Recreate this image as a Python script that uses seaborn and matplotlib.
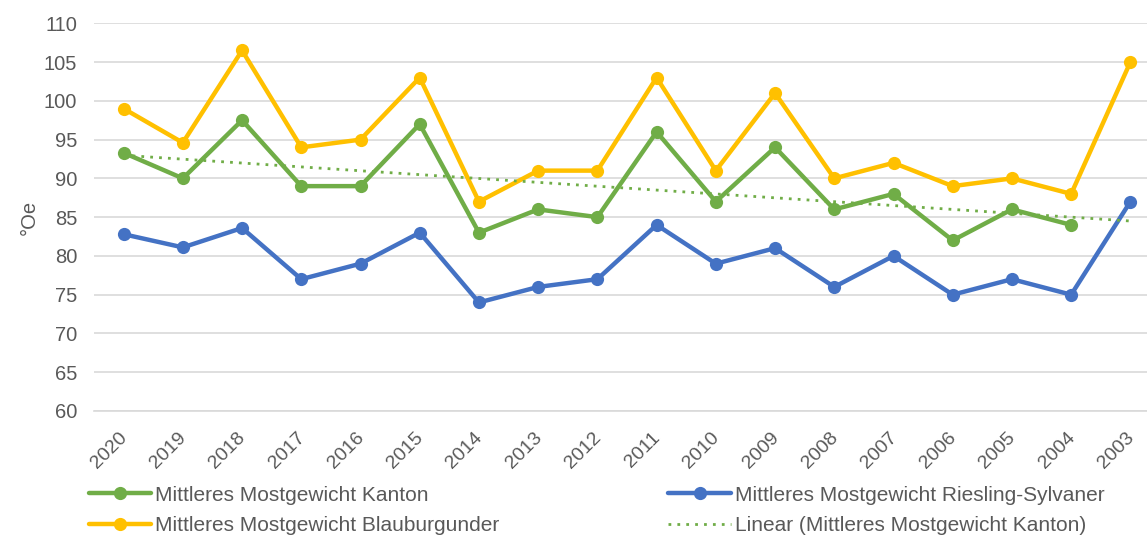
import numpy as np
import pandas as pd
import seaborn as sns
import matplotlib.pyplot as plt
import matplotlib.transforms as mtransforms
from matplotlib.ticker import FixedLocator

years = ['2020', '2019', '2018', '2017', '2016', '2015', '2014', '2013', '2012',
         '2011', '2010', '2009', '2008', '2007', '2006', '2005', '2004', '2003']
kanton = [93.3, 90, 97.5, 89, 89, 97, 83, 86, 85, 96, 87, 94, 86, 88, 82, 86, 84, np.nan]
riesling = [82.8, 81.1, 83.6, 77, 79, 83, 74, 76, 77, 84, 79, 81, 76, 80, 75, 77, 75, 87]
blauburgunder = [99, 94.6, 106.5, 94, 95, 103, 87, 91, 91, 103, 91, 101, 90, 92, 89, 90, 88, 105]

lbl_k = 'Mittleres Mostgewicht Kanton'
lbl_r = 'Mittleres Mostgewicht Riesling-Sylvaner'
lbl_b = 'Mittleres Mostgewicht Blauburgunder'
lbl_t = 'Linear (Mittleres Mostgewicht Kanton)'

GREEN = '#70AD47'
BLUE = '#4472C4'
YELLOW = '#FFC000'
TXT = '#595959'

sns.set_style('white')
plt.rcParams['font.family'] = ['Liberation Sans', 'DejaVu Sans']

pos = np.arange(len(years))
df = pd.DataFrame({'pos': pos, 'kanton': kanton, 'riesling': riesling, 'blau': blauburgunder})

# linear trend of the Kanton series
ok = df['kanton'].notna()
slope, icpt = np.polyfit(df.loc[ok, 'pos'], df.loc[ok, 'kanton'], 1)
trend = pd.DataFrame({'pos': pos, 'trend': icpt + slope * pos})

fig = plt.figure(figsize=(11.47, 5.35), dpi=100)
ax = fig.add_axes([94 / 1147, 1 - 411 / 535, 1066 / 1147, (411 - 23.3) / 535])

style = dict(marker='o', markersize=9.5, linewidth=3.2, markeredgewidth=0)
sns.lineplot(data=df, x='pos', y='kanton', color=GREEN, label=lbl_k, ax=ax, **style)
sns.lineplot(data=df, x='pos', y='riesling', color=BLUE, label=lbl_r, ax=ax, **style)
sns.lineplot(data=df, x='pos', y='blau', color=YELLOW, label=lbl_b, ax=ax, **style)
sns.lineplot(data=trend, x='pos', y='trend', color=GREEN, label=lbl_t, ax=ax,
             linewidth=2, linestyle=(0, (1, 2.2)))

ax.set_xlim(-0.5, len(years) - 0.5)
ax.set_ylim(60, 110)
ax.set_yticks(range(60, 111, 5))
ax.yaxis.grid(True, color='#D9D9D9', linewidth=1.2)
ax.set_axisbelow(True)
for s in ['top', 'right', 'left']:
    ax.spines[s].set_visible(False)
ax.spines['bottom'].set_color('#D9D9D9')
ax.spines['bottom'].set_linewidth(1.2)

ax.set_xticks(pos)
ax.set_xticklabels(years, rotation=45, ha='right', rotation_mode='anchor')
ax.xaxis.set_minor_locator(FixedLocator(np.arange(-0.5, len(years), 1)))
ax.tick_params(axis='x', which='major', length=0, pad=13, labelsize=14, labelcolor=TXT)
ax.tick_params(axis='x', which='minor', length=11, width=1.2, color='#D9D9D9', direction='inout')
ax.tick_params(axis='y', length=0, pad=12, labelsize=14.5, labelcolor=TXT)

# nudge the rotated year labels a little to the left
shift = mtransforms.ScaledTranslation(-5 / 100, 0, fig.dpi_scale_trans)
for t in ax.get_xticklabels():
    t.set_transform(t.get_transform() + shift)

ax.set_xlabel('')
ax.set_ylabel('°Oe', fontsize=14.5, color=TXT, labelpad=4)

h, l = ax.get_legend_handles_labels()
ax.legend_.remove()
order = [0, 2, 1, 3]
fig.legend([h[i] for i in order], [l[i] for i in order], ncol=2, loc='lower left',
           bbox_to_anchor=(70 / 1147, -0.035), frameon=False, fontsize=15, labelcolor=TXT,
           handlelength=3.0, handletextpad=0.2, columnspacing=8.1, labelspacing=0.55)

fig.savefig('out.png', dpi=100)
